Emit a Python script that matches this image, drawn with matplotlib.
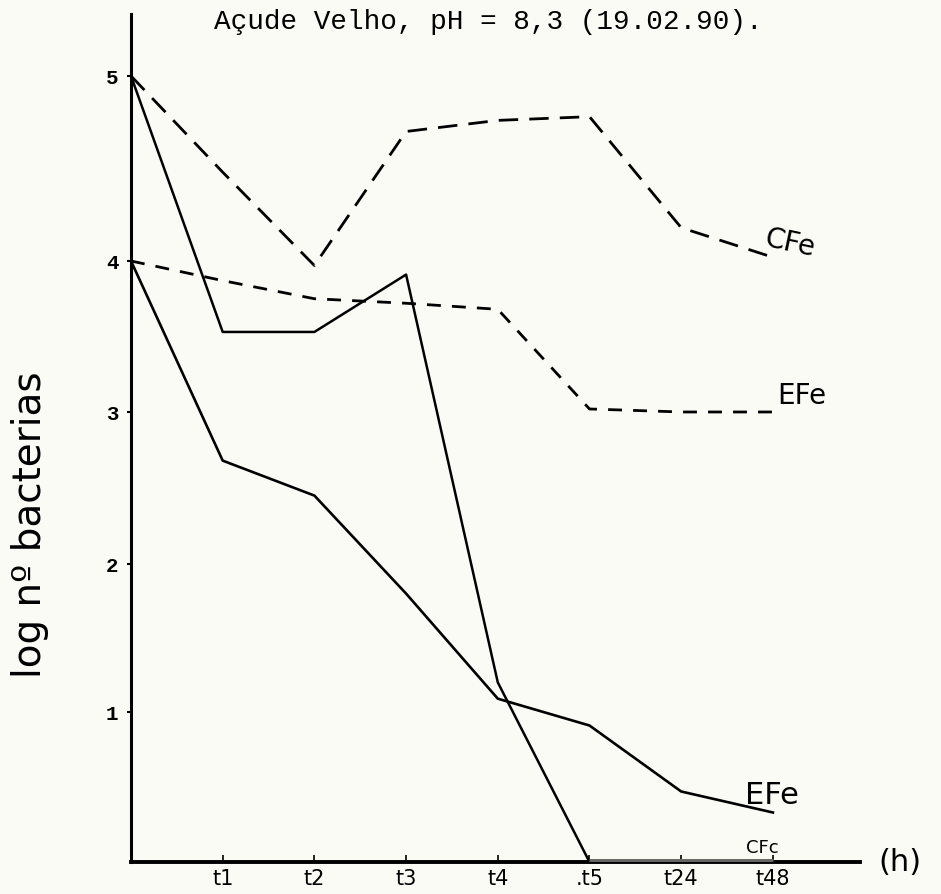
import numpy as np
import matplotlib
matplotlib.use('Agg')
import matplotlib.pyplot as plt

# sampling times (h) and their labels
times = [0, 1, 2, 3, 4, 5, 6, 7]
time_labels = ['t1', 't2', 't3', 't4', '.t5', 't24', 't48']

# log n of bacteria
cfe_dashed = [5.0, 4.48, 3.97, 4.70, 4.76, 4.78, 4.18, 4.02]
efe_dashed = [4.0, 3.87, 3.75, 3.72, 3.68, 3.02, 3.00, 3.00]
cfc_solid = [5.0, 3.53, 3.53, 3.91, 1.20, 0.0, 0.0, 0.0]
efe_solid = [4.0, 2.68, 2.45, 1.80, 1.09, 0.91, 0.47, 0.33]

y_ticks = [1, 2, 3, 4, 5]

# the y axis was ruled by hand: tick spacing is not even
tick_vals = [0, 1, 2, 3, 4, 5, 6]
tick_pos = [0, 150, 298, 450, 601, 786, 971]


def fwd(v):
    return np.interp(v, tick_vals, tick_pos)


def inv(p):
    return np.interp(p, tick_pos, tick_vals)


paper = '#fbfbf6'
fig = plt.figure(figsize=(9.41, 8.95), dpi=100, facecolor=paper)
ax = fig.add_axes([131 / 941, 32 / 895, 729 / 941, 848 / 895])
ax.set_facecolor(paper)
ax.set_yscale('function', functions=(fwd, inv))
ax.set_xlim(0, 7.95)
ax.set_ylim(0, 5.335)

ax.plot(times, cfe_dashed, color='black', lw=2, ls=(0, (7, 4)))
ax.plot(times, efe_dashed, color='black', lw=2, ls=(0, (5, 4)))
ax.plot(times, cfc_solid, color='black', lw=1.8)
ax.plot(times[5:], cfc_solid[5:], color='#666666', lw=5, solid_capstyle='butt', zorder=3)
ax.plot(times, efe_solid, color='black', lw=1.9)

hand = 'DejaVu Sans'
ax.text(7.19, 4.10, 'CFe', fontsize=20, family=hand, rotation=-12, ha='center', va='center')
ax.text(7.32, 3.11, 'EFe', fontsize=20, family=hand, ha='center', va='center')
ax.text(6.99, 0.45, 'EFe', fontsize=22, family=hand, ha='center', va='center')
ax.text(6.89, 0.10, 'CFc', fontsize=13, family=hand, ha='center', va='center')
ax.text(8.39, -0.03, '(h)', fontsize=22, family=hand, ha='center', va='center', clip_on=False)

for s in ['top', 'right']:
    ax.spines[s].set_visible(False)
ax.spines['left'].set_linewidth(2.2)
ax.spines['bottom'].set_linewidth(2.8)

ax.set_yticks(y_ticks)
ax.set_yticklabels([str(v) for v in y_ticks], family='Liberation Mono', fontsize=15, fontweight='bold')
ax.tick_params(axis='y', direction='out', length=3, width=1.5, pad=6)
ax.set_xticks(times[1:])
ax.set_xticklabels(time_labels, family=hand, fontsize=15)
ax.tick_params(axis='x', direction='in', length=5, width=1.2, pad=4)

fig.text(488 / 941, 1 - 22 / 895, 'Açude Velho, pH = 8,3 (19.02.90).', family='Liberation Mono',
         fontsize=20, ha='center', va='center')
fig.text(30 / 941, 1 - 525 / 895, 'log nº bacterias', family=hand, fontsize=28,
         rotation=90, ha='center', va='center')

plt.savefig('out.png', dpi=100, facecolor=paper)
